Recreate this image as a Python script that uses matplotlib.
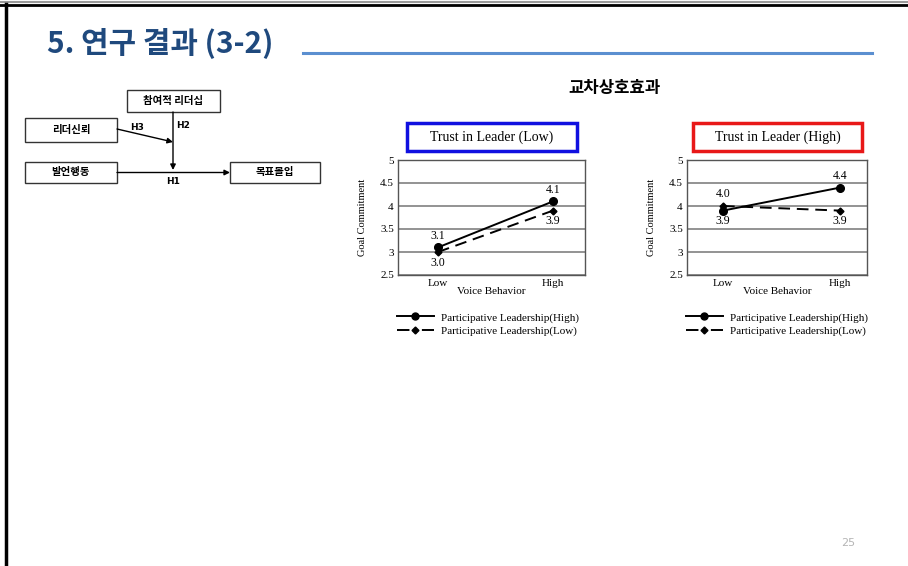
import matplotlib
matplotlib.use("Agg")
import matplotlib.pyplot as plt
from matplotlib.patches import Rectangle
from matplotlib.lines import Line2D

# interaction data: goal commitment by voice behavior
voice_levels = ["Low", "High"]
series_names = ["Participative Leadership(High)", "Participative Leadership(Low)"]
low_trust_high_pl = [3.1, 4.1]
low_trust_low_pl = [3.0, 3.9]
high_trust_high_pl = [3.9, 4.4]
high_trust_low_pl = [4.0, 3.9]
y_ticks = [2.5, 3, 3.5, 4, 4.5, 5]
y_tick_labels = ["2.5", "3", "3.5", "4", "4.5", "5"]

W, H = 908, 566
KR = ["Noto Sans CJK KR", "DejaVu Sans"]
SERIF = "Liberation Serif"

fig = plt.figure(figsize=(W / 100, H / 100), dpi=100)


def px_rect(x0, y0, x1, y1):
    return [x0 / W, 1 - y1 / H, (x1 - x0) / W, (y1 - y0) / H]


# overlay in pixel units for the slide decoration and model diagram
ov = fig.add_axes([0, 0, 1, 1])
ov.set_xlim(0, W)
ov.set_ylim(H, 0)
ov.axis("off")

# slide frame
ov.plot([0, W], [2, 2], color="#9a9a9a", lw=1.5)
ov.plot([0, W], [4.5, 4.5], color="black", lw=2)
ov.plot([6, 6], [4, H], color="black", lw=2.5)

ov.text(47, 43, "5. 연구 결과 (3-2)", family=KR, fontsize=21.5, fontweight="bold",
        color="#1F497D", va="center", ha="left")
ov.plot([303, 872], [53, 53], color="#5B8FD0", lw=2.2)

ov.text(614, 88, "교차상호효과", family=KR, fontsize=12, fontweight="bold",
        ha="center", va="center")
ov.text(848, 543, "25", fontsize=8, color="#b5b5b5", ha="center", va="center")

# research model
boxes = [
    (127, 90, 220, 112, "참여적 리더십"),
    (25, 118, 117, 142, "리더신뢰"),
    (25, 162, 117, 183, "발언행동"),
    (230, 162, 320, 183, "목표몰입"),
]
for x0, y0, x1, y1, label in boxes:
    ov.add_patch(Rectangle((x0, y0), x1 - x0, y1 - y0, fill=False, ec="#333333", lw=1))
    ov.text((x0 + x1) / 2, (y0 + y1) / 2, label, family=KR, fontsize=7.5,
            fontweight="bold", ha="center", va="center")

arrow = dict(arrowstyle="-|>", color="black", lw=1, mutation_scale=8, shrinkA=0, shrinkB=0)
ov.annotate("", xy=(173, 170), xytext=(173, 112), arrowprops=arrow)
ov.annotate("", xy=(230, 172.5), xytext=(117, 172.5), arrowprops=arrow)
ov.annotate("", xy=(173, 142), xytext=(117, 129), arrowprops=arrow)
ov.text(130, 128, "H3", fontsize=6.5, fontweight="bold", ha="left", va="center")
ov.text(176, 126, "H2", fontsize=6.5, fontweight="bold", ha="left", va="center")
ov.text(173, 181, "H1", fontsize=6.5, fontweight="bold", ha="center", va="center")


def draw_panel(rect, ticks_px, title_box, title, edge, high_pl, low_pl, ylabel_x):
    ax = fig.add_axes(px_rect(*rect))
    x = [0, 1]
    ax.plot(x, high_pl, color="black", lw=1.4, marker="o", ms=5.5, zorder=4)
    ax.plot(x, low_pl, color="black", lw=1.4, ls=(0, (6, 3.5)), marker="D",
            ms=3.5, zorder=4)

    # value labels: the higher value sits above its point, the lower one below
    for i in range(len(x)):
        hi_val, lo_val = high_pl[i], low_pl[i]
        top, bot = (hi_val, lo_val) if hi_val >= lo_val else (lo_val, hi_val)
        ax.annotate(f"{top:.1f}", (x[i], top), xytext=(0, 4), textcoords="offset points",
                    ha="center", va="bottom", family=SERIF, fontsize=8.5)
        ax.annotate(f"{bot:.1f}", (x[i], bot), xytext=(0, -3.5), textcoords="offset points",
                    ha="center", va="top", family=SERIF, fontsize=8.5)

    low_px, high_px = ticks_px
    unit = high_px - low_px
    ax.set_xlim(-(low_px - rect[0]) / unit, 1 + (rect[2] - high_px) / unit)
    ax.set_ylim(2.5, 5)
    ax.set_xticks(x)
    ax.set_xticklabels(voice_levels, family=SERIF, fontsize=8)
    ax.set_yticks(y_ticks)
    ax.set_yticklabels(y_tick_labels, family=SERIF, fontsize=8)
    ax.tick_params(length=0, pad=3)
    ax.grid(axis="y", color="#8a8a8a", lw=1.3)
    ax.set_axisbelow(True)
    for s in ax.spines.values():
        s.set_color("#555555")
        s.set_linewidth(1)
    ax.set_xlabel("Voice Behavior", family=SERIF, fontsize=8, labelpad=-1)
    ax.set_ylabel("Goal Commitment", family=SERIF, fontsize=7.5)
    ax.yaxis.set_label_coords((ylabel_x - rect[0]) / (rect[2] - rect[0]), 0.5)

    bx0, by0, bx1, by1 = title_box
    ov.add_patch(Rectangle((bx0, by0), bx1 - bx0, by1 - by0, fill=False, ec=edge, lw=2.5))
    ov.text((bx0 + bx1) / 2, (by0 + by1) / 2, title, family=SERIF, fontsize=10,
            ha="center", va="center")

    handles = [
        Line2D([], [], color="black", lw=1.4, marker="o", ms=5),
        Line2D([], [], color="black", lw=1.4, ls=(0, (6.4, 6.4)), marker="D", ms=3.5),
    ]
    fig.legend(handles=handles, labels=series_names, loc="upper left",
               bbox_to_anchor=((rect[0] - 7) / W, 1 - 307 / H),
               frameon=False, prop={"family": SERIF, "size": 8},
               handlelength=3.4, labelspacing=0.3, handletextpad=0.6, borderpad=0)
    return ax


draw_panel((398, 160, 585, 275), (438, 553), (407, 123, 577, 151),
           "Trust in Leader (Low)", "#1010E0", low_trust_high_pl, low_trust_low_pl, 367)
draw_panel((687, 160, 867, 275), (723, 840), (693, 123, 862, 151),
           "Trust in Leader (High)", "#E81818", high_trust_high_pl, high_trust_low_pl, 656)

fig.savefig("out.png", dpi=100)
